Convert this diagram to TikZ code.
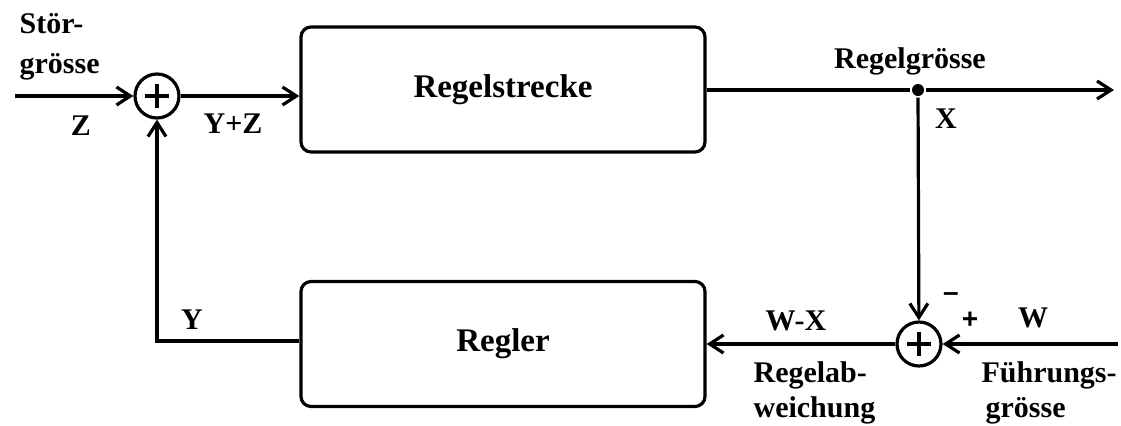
\documentclass[tikz,border=0pt]{standalone}
\usepackage{fontspec}
\setmainfont{Liberation Serif}
\newfontfamily\signfont{Liberation Sans}
\usetikzlibrary{arrows.meta}
\begin{document}
\begin{tikzpicture}[x=0.5pt,y=-0.5pt,
  line width=1.6pt,
  >={Straight Barb[length=7pt,width=9pt]},
  blockbox/.style={draw, rectangle, rounded corners=5pt,
    minimum width=202pt, minimum height=62.5pt, inner sep=0pt,
    font=\fontsize{16.5}{18}\selectfont\bfseries},
  sumnode/.style={draw, circle, minimum size=22pt, inner sep=0pt,
    path picture={
      \draw[line width=1.6pt] ([xshift=-6pt]path picture bounding box.center) -- ([xshift=6pt]path picture bounding box.center);
      \draw[line width=1.6pt] ([yshift=-6pt]path picture bounding box.center) -- ([yshift=6pt]path picture bounding box.center);}},
  dotnode/.style={circle, fill, inner sep=0pt, minimum size=6pt},
  lbl/.style={font=\fontsize{15}{17}\selectfont\bfseries, inner sep=0pt, anchor=base},
  lblw/.style={lbl, anchor=base west},
  signlbl/.style={font=\signfont\fontsize{14}{16}\selectfont\bfseries, inner sep=0pt}]
\useasboundingbox (0,0) rectangle (1121,425);

% blocks
\node[blockbox] (strecke) at (503,89.5) {Regelstrecke};
\node[blockbox] (regler) at (503,344) {Regler};
\node[sumnode] (s1) at (157,96) {};
\node[sumnode] (s2) at (919,344) {};
\node[dotnode] (j) at (918,90) {};

\coordinate (zin) at (15,96);
\coordinate (xout) at (1114,90);
\coordinate (win) at (1118,344);
\coordinate (ycorner) at (157,341);

% connectors
\draw[->] (zin) -- (s1);
\draw[->] (s1.east) -- (s1.east -| strecke.west);
\draw (strecke.east |- j) -- (j);
\draw[->] (j) -- (xout);
\draw[->] (j) -- (s2);
\draw[->] (win) -- (s2);
\draw[->] (s2) -- (regler);
\draw[->] (regler.west |- ycorner) -- (ycorner) -- (s1);

% labels
\node[lblw] (t1) at (18,33) {Stör-};
\node[lblw] (t2) at (18,73) {grösse};
\node[lbl] (tz) at (81,135) {Z};
\node[lbl] (tyz) at (233,133) {Y+Z};
\node[lbl] (tregel) at (910,68) {Regelgrösse};
\node[lbl] (tx) at (946,128) {X};
\node[lbl] (ty) at (192,329) {Y};
\node[lbl] (twx) at (796,330) {W-X};
\node[lbl] (tw) at (1033,327) {W};
\node[lblw] (tra) at (752,382) {Regelab-};
\node[lblw] (trw) at (752,417) {weichung};
\node[lblw] (tf) at (980,382) {Führungs-};
\node[lblw] (tg) at (984,417) {grösse};
\node[signlbl] (minus) at (951,297) {–};
\node[signlbl] (plus) at (970,320) {+};
\end{tikzpicture}
\end{document}
